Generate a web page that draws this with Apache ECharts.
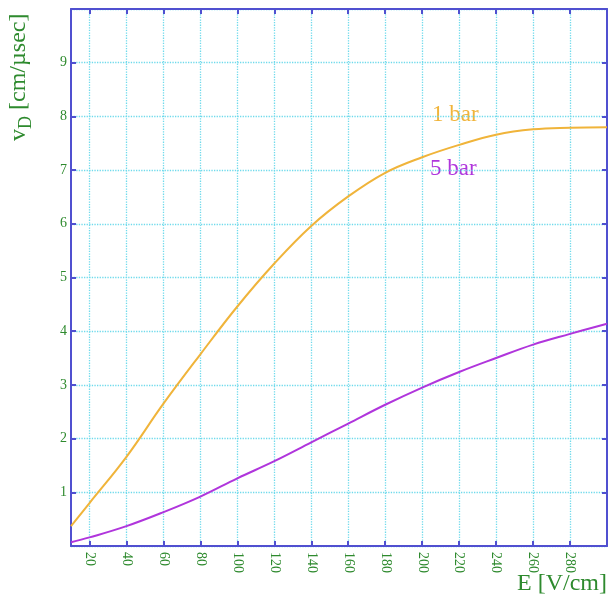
<!DOCTYPE html>
<html>
<head>
<meta charset="utf-8">
<script src="https://cdn.jsdelivr.net/npm/echarts@6/dist/echarts.min.js"></script>
<style>html,body{margin:0;padding:0;background:#fff}#c{width:609px;height:608px}</style>
</head>
<body>
<div id="c"></div>
<script>
var eField = [10, 20, 40, 60, 80, 100, 120, 140, 160, 180, 200, 220, 240, 260, 280, 300];
var bar1 = [0.37, 0.80, 1.66, 2.65, 3.57, 4.46, 5.26, 5.96, 6.51, 6.95, 7.24, 7.47, 7.66, 7.76, 7.79, 7.80];
var bar5 = [0.07, 0.16, 0.37, 0.63, 0.92, 1.26, 1.58, 1.93, 2.28, 2.63, 2.95, 3.24, 3.50, 3.75, 3.95, 4.14];
var xTicks = [20, 40, 60, 80, 100, 120, 140, 160, 180, 200, 220, 240, 260, 280];
var seriesNames = ['1 bar', '5 bar'];
var xTitle = 'E [V/cm]';

var blue = '#5050d0', green = '#2e8a2e', cyan = '#6fdaec';
var orange = '#f0b43a', purple = '#b035dc';
var serif = '"Liberation Serif","DejaVu Serif",serif';

function pairs(xs, ys) { return xs.map(function (x, i) { return [x, ys[i]]; }); }

var chart = echarts.init(document.getElementById('c'));
chart.setOption({
  animation: false,
  backgroundColor: '#fff',
  grid: { left: 71, right: 2, top: 9, bottom: 62, containLabel: false },
  xAxis: [{
    type: 'value', min: 10, max: 300, position: 'bottom',
    axisLine: { show: true, onZero: false, lineStyle: { color: blue, width: 2 } },
    axisTick: { show: true, inside: true, length: 5, customValues: xTicks, lineStyle: { color: blue, width: 2 } },
    axisLabel: { customValues: xTicks, rotate: -90, color: green, fontFamily: serif, fontSize: 14, margin: 6 },
    splitLine: { show: true, lineStyle: { color: cyan, type: 'dotted', width: 1.3 } }
  }, {
    type: 'value', min: 10, max: 300, position: 'top',
    axisLine: { show: true, onZero: false, lineStyle: { color: blue, width: 2 } },
    axisTick: { show: true, inside: true, length: 5, customValues: xTicks, lineStyle: { color: blue, width: 2 } },
    axisLabel: { show: false },
    splitLine: { show: false }
  }],
  yAxis: [{
    type: 'value', min: 0, max: 10, interval: 1, position: 'left',
    axisLine: { show: true, onZero: false, lineStyle: { color: blue, width: 2 } },
    axisTick: { show: true, inside: true, length: 5, lineStyle: { color: blue, width: 2 } },
    axisLabel: { color: green, fontFamily: serif, fontSize: 14, margin: 4,
      formatter: function (v) { return (v === 0 || v === 10) ? '' : String(v); } },
    splitLine: { show: true, lineStyle: { color: cyan, type: 'dotted', width: 1.3 } }
  }, {
    type: 'value', min: 0, max: 10, interval: 1, position: 'right',
    axisLine: { show: true, onZero: false, lineStyle: { color: blue, width: 2 } },
    axisTick: { show: true, inside: true, length: 5, lineStyle: { color: blue, width: 2 } },
    axisLabel: { show: false },
    splitLine: { show: false }
  }],
  series: [{
    name: seriesNames[0], type: 'line', smooth: 0.4, showSymbol: false,
    data: pairs(eField, bar1), lineStyle: { color: orange, width: 2 }, itemStyle: { color: orange }
  }, {
    name: seriesNames[1], type: 'line', smooth: 0.4, showSymbol: false,
    data: pairs(eField, bar5), lineStyle: { color: purple, width: 2 }, itemStyle: { color: purple }
  }],
  graphic: [
    { type: 'text', left: 432, top: 103, style: { text: seriesNames[0], fill: orange, font: '23px ' + serif } },
    { type: 'text', left: 430, top: 157, style: { text: seriesNames[1], fill: purple, font: '23px ' + serif } },
    { type: 'text', right: 2, top: 572, style: { text: xTitle, fill: green, font: '24px ' + serif } },
    { type: 'group', x: 31, y: 141, rotation: Math.PI / 2, children: [
      { type: 'text', x: 0, y: 0, style: { text: 'v', fill: green, font: '24px ' + serif, textAlign: 'left', textVerticalAlign: 'bottom' } },
      { type: 'text', x: 12, y: 4, style: { text: 'D', fill: green, font: '18px ' + serif, textAlign: 'left', textVerticalAlign: 'bottom' } },
      { type: 'text', x: 31, y: 0, style: { text: '[cm/\u00b5sec]', fill: green, font: '24px ' + serif, textAlign: 'left', textVerticalAlign: 'bottom' } }
    ] }
  ]
});
</script>
</body>
</html>
